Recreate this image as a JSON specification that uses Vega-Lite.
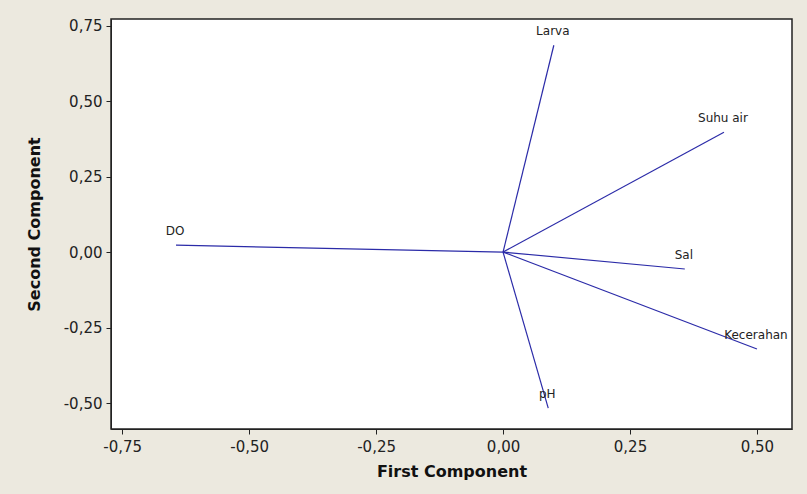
{
  "$schema": "https://vega.github.io/schema/vega-lite/v6.json",
  "width": 681,
  "height": 410,
  "autosize": {"type": "none"},
  "padding": {"left": 111, "top": 19, "right": 15, "bottom": 65},
  "background": "#ECE9DF",
  "config": {
    "view": {"stroke": "#222222", "strokeWidth": 1.5, "fill": "white"},
    "axis": {
      "grid": false,
      "domainColor": "#222222",
      "tickColor": "#222222",
      "tickSize": 5,
      "labelFont": "DejaVu Sans",
      "labelFontSize": 15,
      "labelColor": "#222222",
      "titleFont": "DejaVu Sans",
      "titleFontSize": 16,
      "titleFontWeight": "bold",
      "titleColor": "#111111"
    }
  },
  "data": {
    "values": [
      {"var": "DO", "pc1": -0.644, "pc2": 0.023},
      {"var": "Larva", "pc1": 0.100, "pc2": 0.685},
      {"var": "Suhu air", "pc1": 0.435, "pc2": 0.397},
      {"var": "Sal", "pc1": 0.358, "pc2": -0.056},
      {"var": "Kecerahan", "pc1": 0.500, "pc2": -0.321},
      {"var": "pH", "pc1": 0.089, "pc2": -0.517}
    ]
  },
  "encoding": {
    "x": {
      "field": "pc1", "type": "quantitative",
      "scale": {"domain": [-0.772, 0.569], "nice": false, "zero": false},
      "axis": {
        "title": "First Component",
        "values": [-0.75, -0.5, -0.25, 0, 0.25, 0.5],
        "labelExpr": "replace(replace(format(datum.value, '.2f'), '.', ','), '\u2212', '-')",
        "labelPadding": 5,
        "titlePadding": 9
      }
    },
    "y": {
      "field": "pc2", "type": "quantitative",
      "scale": {"domain": [-0.586, 0.772], "nice": false, "zero": false},
      "axis": {
        "title": "Second Component",
        "values": [-0.5, -0.25, 0, 0.25, 0.5, 0.75],
        "labelExpr": "replace(replace(format(datum.value, '.2f'), '.', ','), '\u2212', '-')",
        "labelPadding": 4,
        "titlePadding": 21
      }
    }
  },
  "layer": [
    {
      "mark": {"type": "rule", "color": "#2b2ba8", "strokeWidth": 1.2},
      "encoding": {
        "x2": {"datum": 0},
        "y2": {"datum": 0}
      }
    },
    {
      "mark": {"type": "text", "font": "DejaVu Sans", "fontSize": 12, "color": "#222222", "dy": -14, "dx": -1},
      "encoding": {"text": {"field": "var"}}
    }
  ]
}
